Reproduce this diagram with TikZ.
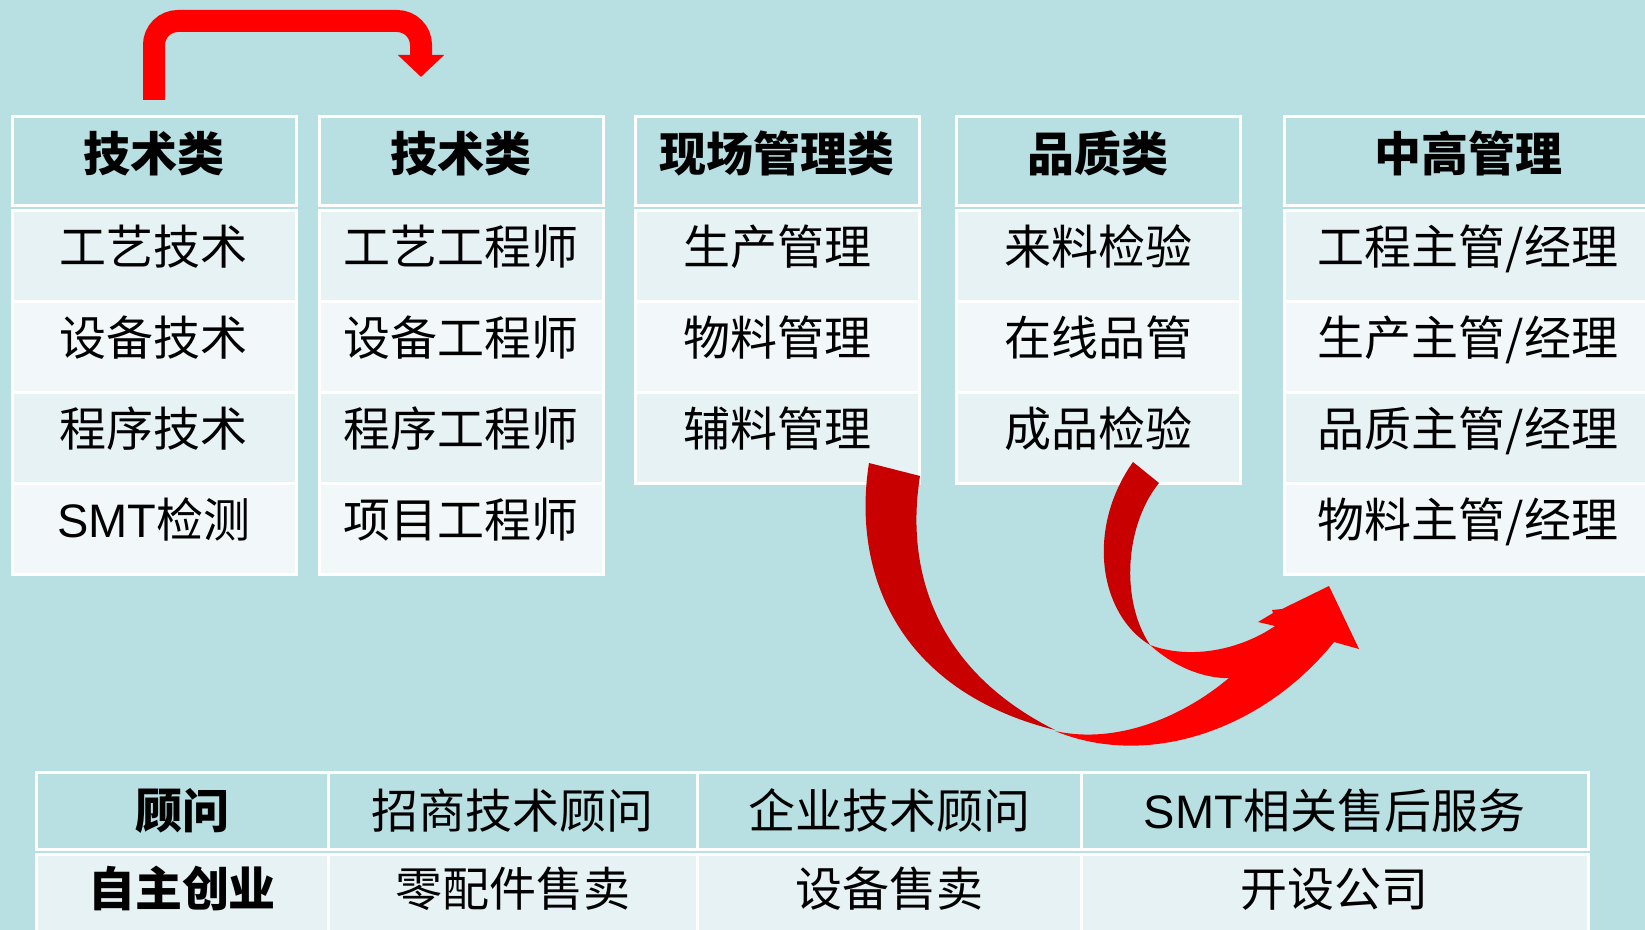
\documentclass[tikz,border=0pt]{standalone}
\usepackage{fontspec}
\setmainfont{Noto Sans CJK SC}
\newfontfamily\latinsf{Liberation Sans}
\usetikzlibrary{positioning,arrows.meta}
\definecolor{tealbg}{RGB}{184,224,227}
\definecolor{rowa}{RGB}{230,242,244}
\definecolor{rowb}{RGB}{242,248,250}
\definecolor{darkswoosh}{RGB}{200,0,0}
\tikzset{
cell/.style={draw=white,line width=1.5pt,inner sep=0pt,outer sep=0pt,
minimum width=142pt,minimum height=45.5pt,text height=20pt,text depth=11pt,
font=\fontsize{23.5pt}{28pt}\selectfont},
head/.style={cell,fill=tealbg,minimum height=44.5pt,text depth=9.2pt,
font=\fontsize{23.5pt}{28pt}\selectfont\bfseries},
oddrow/.style={cell,fill=rowa},
evenrow/.style={cell,fill=rowb},
wide/.style={minimum width=184pt},
advrow/.style={cell,fill=tealbg,minimum height=38.5pt,text depth=2.2pt},
ownrow/.style={cell,fill=rowa,minimum height=40pt,text depth=7.7pt},
jump/.style={draw=red,line width=11pt,rounded corners=12pt,
-{Triangle[width=22.5pt,length=11pt]}}
}

\begin{document}
\begin{tikzpicture}[x=0.5pt,y=-0.5pt]
\fill[tealbg] (0,0) rectangle (1645,930);
\useasboundingbox (0,0) rectangle (1645,930);

\node[head] (h1) at (154,161) {技术类};
\node[head] (h2) at (461,161) {技术类};
\node[head] (h3) at (777,161) {现场管理类};
\node[head] (h4) at (1098,161) {品质类};
\node[head,wide] (h5) at (1468,161) {中高管理};

\node[oddrow,below=2.5pt of h1] (a1) {工艺技术};
\node[evenrow,below=0pt of a1] (a2) {设备技术};
\node[oddrow,below=0pt of a2] (a3) {程序技术};
\node[evenrow,below=0pt of a3] (a4) {{\latinsf SMT}检测};

\node[oddrow,below=2.5pt of h2] (b1) {工艺工程师};
\node[evenrow,below=0pt of b1] (b2) {设备工程师};
\node[oddrow,below=0pt of b2] (b3) {程序工程师};
\node[evenrow,below=0pt of b3] (b4) {项目工程师};

\node[oddrow,below=2.5pt of h3] (c1) {生产管理};
\node[evenrow,below=0pt of c1] (c2) {物料管理};
\node[oddrow,below=0pt of c2] (c3) {辅料管理};

\node[oddrow,below=2.5pt of h4] (d1) {来料检验};
\node[evenrow,below=0pt of d1] (d2) {在线品管};
\node[oddrow,below=0pt of d2] (d3) {成品检验};

\node[oddrow,wide,below=2.5pt of h5] (e1) {工程主管/经理};
\node[evenrow,wide,below=0pt of e1] (e2) {生产主管/经理};
\node[oddrow,wide,below=0pt of e2] (e3) {品质主管/经理};
\node[evenrow,wide,below=0pt of e3] (e4) {物料主管/经理};

\node[advrow,minimum width=146pt] (adv1) at (182,811) {\bfseries 顾问};
\node[advrow,minimum width=184.5pt,right=0pt of adv1] (adv2) {招商技术顾问};
\node[advrow,minimum width=192pt,right=0pt of adv2] (adv3) {企业技术顾问};
\node[advrow,minimum width=253.5pt,right=0pt of adv3] (adv4) {{\latinsf SMT}相关售后服务};

\node[ownrow,minimum width=146pt,below=2.5pt of adv1] (own1) {\bfseries 自主创业};
\node[ownrow,minimum width=184.5pt,below=2.5pt of adv2] (own2) {零配件售卖};
\node[ownrow,minimum width=192pt,below=2.5pt of adv3] (own3) {设备售卖};
\node[ownrow,minimum width=253.5pt,below=2.5pt of adv4] (own4) {开设公司};

\draw[jump] ([yshift=8.25pt]h1.north) -- ++(0,-79) -| ([xshift=-20pt,yshift=19.75pt]h2.north);

\fill[darkswoosh] (869,463) -- (920,476) .. controls (905,570) and (935,670) .. (1055,730)
  .. controls (895,690) and (852,570) .. (869,463) -- cycle;
\fill[red] (1055,731) .. controls (1150,770) and (1265,728) .. (1334,642) -- (1359,649)
  -- (1329,586) -- (1282,609) -- (1272,610) -- (1273,613) -- (1258,622) -- (1275,626)
  .. controls (1235,690) and (1140,750) .. (1055,731) -- cycle;
\fill[darkswoosh] (1133,462) -- (1159,483) .. controls (1125,525) and (1120,600) .. (1150,645)
  .. controls (1100,615) and (1085,530) .. (1133,462) -- cycle;
\fill[red] (1150,645) .. controls (1180,672) and (1215,682) .. (1245,677) -- (1275,626)
  .. controls (1240,650) and (1190,660) .. (1150,645) -- cycle;
\end{tikzpicture}
\end{document}
